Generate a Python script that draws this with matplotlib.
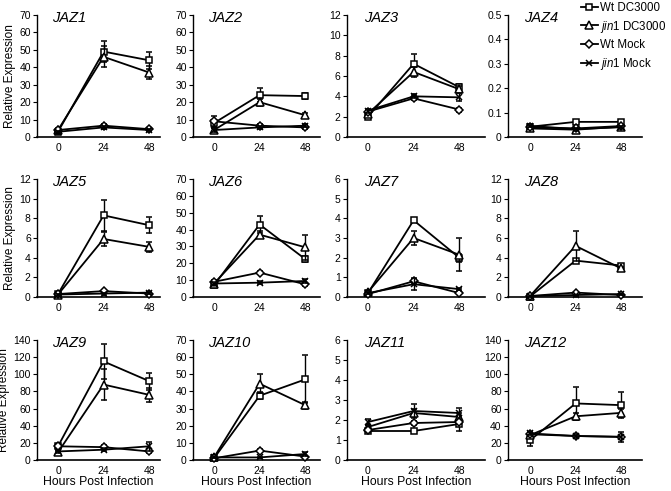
import matplotlib
matplotlib.use("Agg")
import matplotlib.pyplot as plt
from matplotlib.lines import Line2D

plt.rcParams['font.family'] = ['Liberation Sans', 'DejaVu Sans']
plt.rcParams['mathtext.fontset'] = 'custom'
plt.rcParams['mathtext.it'] = 'Liberation Sans:italic'
plt.rcParams['mathtext.rm'] = 'Liberation Sans'

hours = [0, 24, 48]
series = ['Wt DC3000', '$\\it{jin1}$ DC3000', 'Wt Mock', '$\\it{jin1}$ Mock']
genes = ['JAZ1', 'JAZ2', 'JAZ3', 'JAZ4', 'JAZ5', 'JAZ6',
         'JAZ7', 'JAZ8', 'JAZ9', 'JAZ10', 'JAZ11', 'JAZ12']

# rows: Wt DC3000, jin1 DC3000, Wt Mock, jin1 Mock
jaz1_mean = [[3, 49, 44], [4, 46, 37], [4, 6.5, 4.5], [3, 5.5, 4]]
jaz1_err = [[1, 6, 5], [1, 6, 4], [0.5, 1, 0.5], [0.5, 1, 0.5]]
jaz2_mean = [[8, 24, 23.5], [4, 20, 12.5], [9, 6.5, 5.5], [4, 5.5, 6.5]]
jaz2_err = [[2, 4, 1.5], [1, 2, 1.5], [3, 1, 1], [1, 1, 1]]
jaz3_mean = [[2.0, 7.2, 4.9], [2.3, 6.4, 4.7], [2.5, 3.8, 2.7], [2.6, 4.0, 3.9]]
jaz3_err = [[0.2, 1.0, 0.3], [0.2, 0.5, 0.3], [0.2, 0.2, 0.2], [0.2, 0.2, 0.4]]
jaz4_mean = [[0.042, 0.062, 0.062], [0.035, 0.03, 0.042], [0.04, 0.035, 0.045], [0.045, 0.033, 0.04]]
jaz4_err = [[0.005, 0.005, 0.005], [0.005, 0.005, 0.005], [0.005, 0.005, 0.005], [0.005, 0.005, 0.005]]
jaz5_mean = [[0.3, 8.3, 7.3], [0.25, 5.9, 5.1], [0.3, 0.6, 0.35], [0.25, 0.35, 0.45]]
jaz5_err = [[0.1, 1.6, 0.8], [0.1, 0.7, 0.5], [0.1, 0.1, 0.1], [0.1, 0.1, 0.1]]
jaz6_mean = [[7, 43, 22.5], [8, 37, 29.5], [9, 14.5, 7.5], [8, 8.5, 9.5]]
jaz6_err = [[1, 5, 2], [1, 2, 7.5], [1, 1, 1], [1, 1, 1]]
jaz7_mean = [[0.2, 3.9, 2.0], [0.25, 3.0, 2.15], [0.15, 0.8, 0.2], [0.2, 0.65, 0.4]]
jaz7_err = [[0.05, 0.1, 0.2], [0.05, 0.35, 0.85], [0.05, 0.1, 0.05], [0.05, 0.3, 0.05]]
jaz8_mean = [[0.05, 3.7, 3.2], [0.1, 5.2, 2.9], [0.1, 0.45, 0.2], [0.1, 0.2, 0.3]]
jaz8_err = [[0.05, 0.2, 0.2], [0.05, 1.5, 0.2], [0.05, 0.05, 0.05], [0.05, 0.05, 0.05]]
jaz9_mean = [[16, 115, 92], [9, 88, 76], [16, 15, 10], [10, 12, 16]]
jaz9_err = [[2, 20, 10], [2, 18, 8], [2, 2, 2], [2, 2, 5]]
jaz10_mean = [[1, 37.5, 47], [1.5, 44.5, 32], [1, 5.5, 2], [1.5, 1.5, 3.5]]
jaz10_err = [[0.5, 2, 14], [0.5, 5.5, 2], [0.5, 1, 0.5], [0.5, 0.5, 1]]
jaz11_mean = [[1.45, 1.45, 1.8], [1.65, 2.35, 2.15], [1.5, 1.85, 1.9], [1.9, 2.45, 2.35]]
jaz11_err = [[0.1, 0.1, 0.35], [0.1, 0.2, 0.2], [0.1, 0.1, 0.1], [0.15, 0.35, 0.25]]
jaz12_mean = [[23, 66, 64], [29, 51, 55], [30, 28, 27], [31, 28, 27]]
jaz12_err = [[7, 19, 15], [3, 4, 5], [2, 2, 2], [2, 2, 6]]

means = [jaz1_mean, jaz2_mean, jaz3_mean, jaz4_mean, jaz5_mean, jaz6_mean,
         jaz7_mean, jaz8_mean, jaz9_mean, jaz10_mean, jaz11_mean, jaz12_mean]
errs = [jaz1_err, jaz2_err, jaz3_err, jaz4_err, jaz5_err, jaz6_err,
        jaz7_err, jaz8_err, jaz9_err, jaz10_err, jaz11_err, jaz12_err]
y_tops = [70, 70, 12, 0.5, 12, 70, 6, 12, 140, 70, 6, 140]
y_steps = [10, 10, 2, 0.1, 2, 10, 1, 2, 20, 10, 1, 20]

markers = ['s', '^', 'D', 'x']
msizes = [5, 5.5, 4.3, 4.5]
narrow = ['Liberation Sans Narrow', 'Liberation Sans', 'DejaVu Sans']

W, H = 671, 491
fig = plt.figure(figsize=(W / 100, H / 100), dpi=100)

# layout in pixels
col_left = [37, 193, 347, 508]
col_zero = [58, 214, 368, 530]
col_right = [160, 320, 485, 642]
row_top = [15, 179, 340]
row_bot = [137, 297, 460]
pph = 1.9

for i, gene in enumerate(genes):
    r, c = divmod(i, 4)
    left = col_left[c] / W
    width = (col_right[c] - col_left[c]) / W
    bottom = 1 - row_bot[r] / H
    height = (row_bot[r] - row_top[r]) / H
    ax = fig.add_axes([left, bottom, width, height])
    for s in range(4):
        ax.errorbar(hours, means[i][s], yerr=errs[i][s], color='black', lw=1.3,
                    marker=markers[s], ms=msizes[s], mfc='white', mec='black',
                    mew=1.1, elinewidth=1.0, capsize=2, clip_on=False, zorder=3 + s)
    ax.set_xlim(-(col_zero[c] - col_left[c]) / pph, (col_right[c] - col_zero[c]) / pph)
    ax.set_ylim(0, y_tops[i])
    n = int(round(y_tops[i] / y_steps[i]))
    ticks = [round(k * y_steps[i], 3) for k in range(n + 1)]
    ax.set_yticks(ticks)
    ax.set_yticklabels(['{:g}'.format(t) for t in ticks])
    ax.set_xticks(hours)
    ax.spines['top'].set_visible(False)
    ax.spines['right'].set_visible(False)
    ax.spines['left'].set_linewidth(1.0)
    ax.spines['bottom'].set_linewidth(1.2)
    ax.tick_params(axis='y', length=3, width=0.8, labelsize=7.5, pad=1.5)
    ax.tick_params(axis='x', length=0, labelsize=7.5, pad=4)
    for lab in ax.get_xticklabels() + ax.get_yticklabels():
        lab.set_family(narrow)
    ax.text(0.12, 1.03, gene, transform=ax.transAxes, fontsize=10.5,
            style='italic', ha='left', va='top')
    if c == 0:
        ax.set_ylabel('Relative Expression', fontsize=8.5, labelpad=2)
    if r == 2:
        ax.set_xlabel('Hours Post Infection', fontsize=8.8, labelpad=0)

handles = [Line2D([], [], color='black', lw=1.3, marker=markers[s], ms=msizes[s],
                  mfc='white', mec='black', mew=1.1) for s in range(4)]
fig.legend(handles, series, loc='upper left', bbox_to_anchor=(576 / W, 1.006),
           frameon=False, fontsize=8.3, handlelength=1.5, handletextpad=0.15,
           labelspacing=0.42, borderaxespad=0)

fig.savefig('out.png', dpi=100)
